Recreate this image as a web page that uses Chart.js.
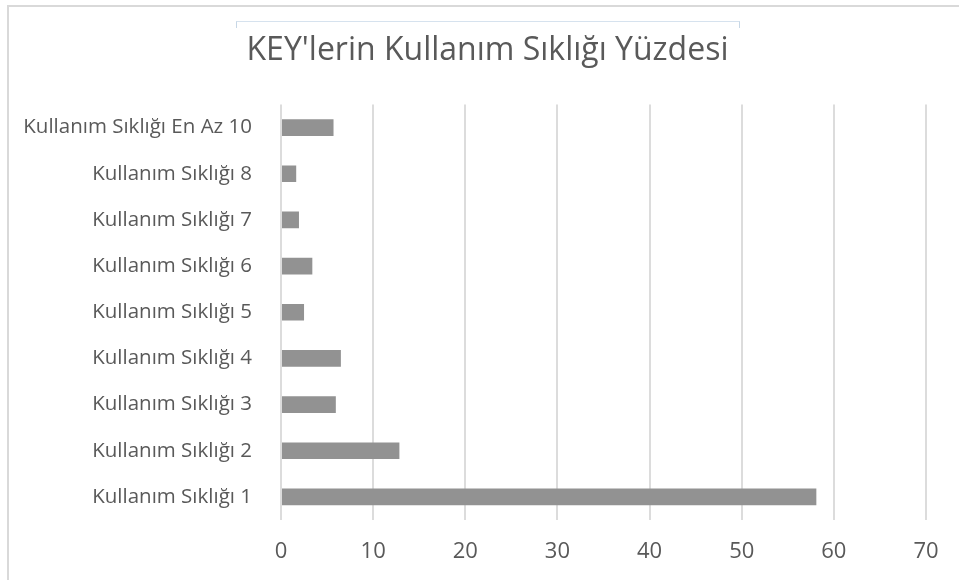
<!DOCTYPE html>
<html>
<head>
<meta charset="utf-8">
<script src="https://cdn.jsdelivr.net/npm/chart.js@4.4.0/dist/chart.umd.min.js"></script>
<style>
  html, body { margin: 0; padding: 0; background: #fff; overflow: hidden; }
  #wrap { position: relative; width: 959px; height: 580px; overflow: hidden; }
  #frame { position: absolute; left: 7px; top: 5px; width: 1000px; height: 1000px; border: 2px solid #d9d9d9; }
  #sel { position: absolute; left: 236px; top: 21px; width: 502px; height: 6px; border-top: 1px solid #d6e2ee; border-left: 1px solid #c7d7e6; border-right: 1px solid #c7d7e6; }
  canvas { position: absolute; left: 0; top: 0; }
</style>
</head>
<body>
<div id="wrap">
  <div id="frame"></div>
  <div id="sel"></div>
  <canvas id="keys" width="959" height="580"></canvas>
</div>
<script>
const chartTitle = "KEY'lerin Kullanım Sıklığı Yüzdesi";
const categories = [
  "Kullanım Sıklığı En Az 10",
  "Kullanım Sıklığı 8",
  "Kullanım Sıklığı 7",
  "Kullanım Sıklığı 6",
  "Kullanım Sıklığı 5",
  "Kullanım Sıklığı 4",
  "Kullanım Sıklığı 3",
  "Kullanım Sıklığı 2",
  "Kullanım Sıklığı 1",
];
const percentages = [5.7, 1.65, 1.95, 3.4, 2.5, 6.5, 5.95, 12.85, 58.1];
const xTicks = [0, 10, 20, 30, 40, 50, 60, 70];

const fontFamily = "'Open Sans', sans-serif";
const textColor = "#595959";

// title drawn by hand: it sits off-centre from the plot in the original
const titlePlugin = {
  id: "keysTitle",
  afterDraw(chart) {
    let c = chart.ctx;
    c.save();
    c.font = "32px " + fontFamily;
    c.fillStyle = textColor;
    c.textAlign = "center";
    c.textBaseline = "middle";
    c.fillText(chartTitle, 487.5, 51);
    c.restore();
  },
};

let ctx = document.getElementById("keys").getContext("2d");
let keysChart = new Chart(ctx, {
  type: "bar",
  data: {
    labels: categories,
    datasets: [
      {
        label: "Yüzde",
        data: percentages,
        backgroundColor: "#929292",
        borderWidth: 0,
        categoryPercentage: 1,
        barPercentage: 0.36,
      },
    ],
  },
  plugins: [titlePlugin],
  options: {
    indexAxis: "y",
    responsive: false,
    animation: false,
    layout: { padding: { left: 0, right: 33, top: 104.5, bottom: 0 } },
    plugins: {
      legend: { display: false },
      tooltip: { enabled: false },
      title: { display: false },
    },
    scales: {
      x: {
        min: xTicks[0],
        max: xTicks[xTicks.length - 1],
        afterBuildTicks: (scale) => {
          scale.ticks = xTicks.map((v) => ({ value: v }));
        },
        afterFit: (scale) => {
          scale.height = 60;
        },
        grid: { color: "#dcdcdc", lineWidth: 2, drawTicks: false },
        border: { display: false },
        ticks: {
          color: textColor,
          padding: 19,
          font: { family: fontFamily, size: 22 },
        },
      },
      y: {
        afterFit: (scale) => {
          scale.width = 281;
        },
        grid: { display: false, drawTicks: false },
        border: { display: false },
        ticks: {
          color: textColor,
          padding: 29,
          font: { family: fontFamily, size: 20.5 },
        },
      },
    },
  },
});
</script>
</body>
</html>
